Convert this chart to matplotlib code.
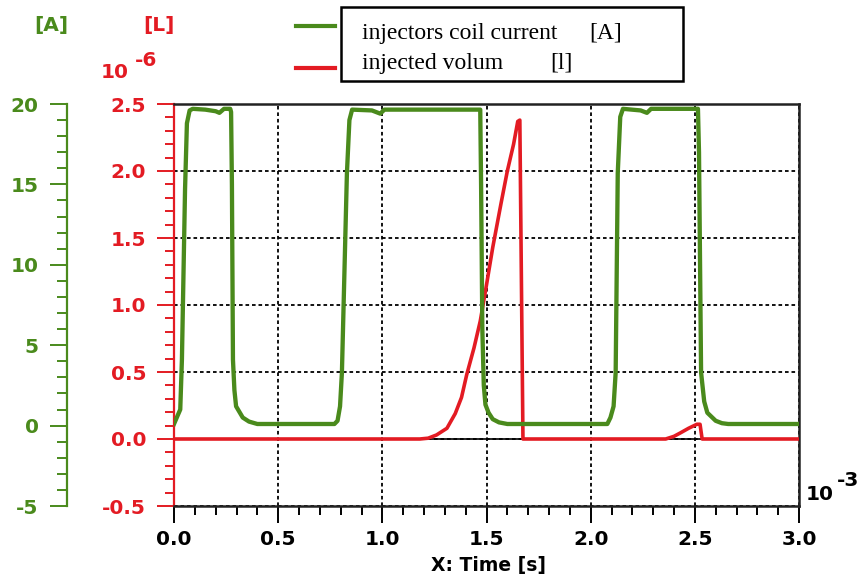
import matplotlib
matplotlib.use('Agg')
import matplotlib.pyplot as plt
from matplotlib.ticker import MultipleLocator, FormatStrFormatter
from matplotlib.patches import Rectangle
from matplotlib.lines import Line2D

plt.rcParams['axes.unicode_minus'] = False
plt.rcParams['font.family'] = 'DejaVu Sans'

GREEN = '#4a8a1c'
RED = '#e31b23'

# time in 10^-3 s
current_t = [0.0, 0.03, 0.038, 0.053, 0.062, 0.075, 0.09, 0.15, 0.20, 0.218, 0.24, 0.27,
             0.274, 0.278, 0.283, 0.29, 0.298, 0.33, 0.36, 0.40,
             0.77, 0.785, 0.797, 0.806, 0.83, 0.842, 0.855, 0.95, 0.99, 1.01, 1.47,
             1.474, 1.48, 1.487, 1.495, 1.51, 1.53, 1.56, 1.60,
             2.08, 2.095, 2.11, 2.12, 2.13, 2.142, 2.155, 2.24, 2.27, 2.29, 2.515,
             2.52, 2.53, 2.545, 2.56, 2.60, 2.63, 2.66, 3.0]
# injector coil current [A]
current_a = [0.1, 1.0, 4.1, 14.7, 18.8, 19.6, 19.7, 19.65, 19.55, 19.45, 19.7, 19.7,
             19.5, 15.0, 4.1, 2.2, 1.2, 0.5, 0.25, 0.1,
             0.1, 0.3, 1.2, 3.3, 15.7, 19.0, 19.65, 19.6, 19.4, 19.65, 19.65,
             15.0, 6.0, 2.5, 1.3, 0.8, 0.4, 0.2, 0.1,
             0.1, 0.5, 1.2, 3.3, 15.7, 19.2, 19.7, 19.6, 19.45, 19.7, 19.7,
             17.0, 3.3, 1.5, 0.8, 0.3, 0.15, 0.1, 0.1]

volume_t = [0.0, 1.18, 1.22, 1.26, 1.31, 1.35, 1.38, 1.405, 1.44, 1.47, 1.50, 1.53,
            1.57, 1.60, 1.63, 1.65, 1.66, 1.675,
            2.36, 2.40, 2.43, 2.47, 2.51, 2.525, 2.535, 3.0]
# injected volume [10^-6 l]
volume_v = [0.0, 0.0, 0.006, 0.03, 0.08, 0.19, 0.31, 0.48, 0.68, 0.88, 1.15, 1.43,
            1.76, 2.0, 2.2, 2.37, 2.38, 0.0,
            0.0, 0.02, 0.045, 0.08, 0.11, 0.11, 0.0, 0.0]

W, H = 863, 585
fig = plt.figure(figsize=(W / 100, H / 100), dpi=100)

def fx(px):
    return px / W

def fy(py):
    return 1 - py / H

ax = fig.add_axes([fx(174), fy(506), (799 - 174) / W, (506 - 104) / H])
ax.set_xlim(0, 3)
ax.set_ylim(-0.5, 2.5)

ax.grid(True, which='major', color='black', linestyle=(0, (2.0, 1.6)), lw=1.3)
ax.axhline(0, color='black', lw=1.2, zorder=1.5)
ax.plot(volume_t, volume_v, color=RED, lw=2.6, zorder=3, solid_joinstyle='round')

ax.xaxis.set_major_locator(MultipleLocator(0.5))
ax.xaxis.set_minor_locator(MultipleLocator(0.1))
ax.yaxis.set_major_locator(MultipleLocator(0.5))
ax.yaxis.set_minor_locator(MultipleLocator(0.1))
ax.xaxis.set_major_formatter(FormatStrFormatter('%.1f'))
ax.yaxis.set_major_formatter(FormatStrFormatter('%.1f'))

ax.tick_params(axis='x', which='major', length=12, width=1.4, pad=5, colors='black',
               labelsize=14.5)
ax.tick_params(axis='x', which='minor', length=6.5, width=1.4, colors='black')
ax.tick_params(axis='y', which='major', length=12, width=1.4, pad=8, colors=RED,
               labelsize=14.5)
ax.tick_params(axis='y', which='minor', length=6.5, width=1.4, colors=RED)
for lab in ax.get_xticklabels() + ax.get_yticklabels():
    lab.set_fontweight('bold')

ax.spines['left'].set_color(RED)
ax.spines['left'].set_linewidth(1.6)
for s in ['top', 'right', 'bottom']:
    ax.spines[s].set_color('#222222')
    ax.spines[s].set_linewidth(1.8)

ax2 = ax.twinx()
ax2.set_ylim(-5, 20)
ax2.plot(current_t, current_a, color=GREEN, lw=3.1, zorder=2, solid_joinstyle='round')
ax2.spines['left'].set_position(('axes', (67 - 174) / 625))
ax2.spines['left'].set_visible(True)
ax2.spines['left'].set_color(GREEN)
ax2.spines['left'].set_linewidth(1.6)
for s in ['top', 'right', 'bottom']:
    ax2.spines[s].set_visible(False)
ax2.yaxis.set_ticks_position('left')
ax2.yaxis.set_label_position('left')
ax2.yaxis.set_major_locator(MultipleLocator(5))
ax2.yaxis.set_minor_locator(MultipleLocator(1))
ax2.tick_params(axis='y', which='major', length=12.5, width=1.4, pad=8, colors=GREEN,
                labelsize=14.5)
ax2.tick_params(axis='y', which='minor', length=7, width=1.4, colors=GREEN)
for lab in ax2.get_yticklabels():
    lab.set_fontweight('bold')

# unit labels and exponents
fig.text(fx(51), fy(26), '[A]', color=GREEN, fontsize=14.5, fontweight='bold',
         ha='center', va='center')
fig.text(fx(159), fy(26), '[L]', color=RED, fontsize=14.5, fontweight='bold',
         ha='center', va='center')
fig.text(fx(115), fy(73), '10', color=RED, fontsize=14.5, fontweight='bold',
         ha='center', va='center')
fig.text(fx(146), fy(60), '-6', color=RED, fontsize=14.5, fontweight='bold',
         ha='center', va='center')
fig.text(fx(820), fy(494), '10', color='black', fontsize=14.5, fontweight='bold',
         ha='center', va='center')
fig.text(fx(848), fy(481), '-3', color='black', fontsize=14.5, fontweight='bold',
         ha='center', va='center')
fig.text(fx(488), fy(566), 'X: Time [s]', color='black', fontsize=13.5,
         fontweight='bold', ha='center', va='center')

# legend box
fig.add_artist(Rectangle((fx(341), fy(81)), (683 - 341) / W, (81 - 7) / H,
                         transform=fig.transFigure, fill=False, ec='black', lw=1.8))
fig.add_artist(Line2D([fx(296), fx(335)], [fy(26), fy(26)], color=GREEN, lw=3,
                      transform=fig.transFigure))
fig.add_artist(Line2D([fx(296), fx(335)], [fy(68), fy(68)], color=RED, lw=3,
                      transform=fig.transFigure))
serif = 'Liberation Serif'
fig.text(fx(362), fy(39), 'injectors coil current', family=serif, fontsize=17,
         va='baseline', ha='left')
fig.text(fx(589), fy(39), '[A]', family=serif, fontsize=17, va='baseline', ha='left')
fig.text(fx(362), fy(69), 'injected volum', family=serif, fontsize=17,
         va='baseline', ha='left')
fig.text(fx(550), fy(69), '[l]', family=serif, fontsize=17, va='baseline', ha='left')

fig.savefig('out.png', dpi=100)
